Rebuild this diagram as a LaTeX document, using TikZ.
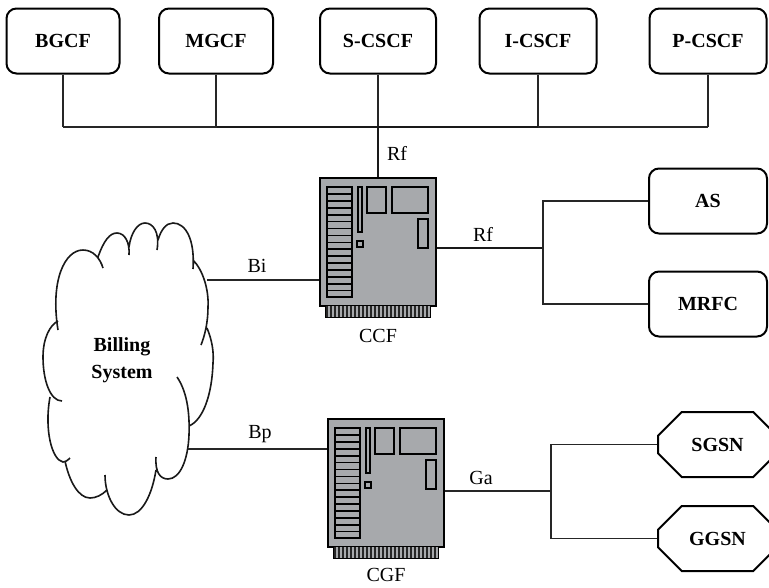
\documentclass[tikz,border=0pt]{standalone}
\usepackage{fontspec}
\setmainfont{Liberation Serif}
\usetikzlibrary{positioning,shapes.misc}
\definecolor{boardgray}{HTML}{A7A9AC}
\tikzset{
    wire/.style={line width=1.6pt, black!85},
    heavy/.style={line width=2.6pt, black!90},
    elbox/.style={draw, line width=2pt, rounded corners=10pt, font=\fontsize{20}{24}\selectfont\bfseries, inner sep=0pt},
    gateway/.style={draw, line width=2pt, chamfered rectangle, chamfered rectangle xsep=20pt, chamfered rectangle ysep=17pt, minimum width=119pt, minimum height=65pt, font=\fontsize{20}{24}\selectfont\bfseries, inner sep=0pt},
    board/.style={draw, line width=1.8pt, fill=boardgray, minimum width=116pt, minimum height=128pt, inner sep=0pt},
    lbl/.style={font=\fontsize{20}{24}\selectfont, inner sep=0pt}
}
\begin{document}
\begin{tikzpicture}[x=1pt,y=-1pt]
    \useasboundingbox (0,0) rectangle (769,587);
    % Top row
    \foreach \n/\x/\w/\t in {bgcf/63/113/BGCF, mgcf/216/114/MGCF, scscf/378/116/S-CSCF, icscf/538/117/I-CSCF, pcscf/708/117/P-CSCF}
        \node (\n) [elbox, minimum width=\w pt, minimum height=65pt] at (\x,41) {\t};
    % Right column
    \node (as) [elbox, minimum width=118pt, minimum height=65pt] at (708,201) {AS};
    \node (mrfc) [elbox, minimum width=118pt, minimum height=65pt] at (708,304) {MRFC};
    \node (sgsn) [gateway] at (717.5,444.5) {SGSN};
    \node (ggsn) [gateway] at (717.5,538.5) {GGSN};
    % Boards
    \node (ccf) [board] at (378,242) {};
    \node (cgf) [board] at (386,483) {};
    \foreach \d in {ccf,cgf} {
        \begin{scope}[shift={(\d.north west)}]
            \draw[line width=1.2pt, fill=boardgray] (6,128) rectangle (111,140);
            \foreach \x in {8,12,...,108} \draw[line width=2.2pt, black!85] (\x,129) -- (\x,140);
            \draw[line width=1.3pt] (8,10) rectangle (33,120);
            \foreach \i in {1,...,15} \draw[line width=1.6pt] (7,10+\i*6.9) -- (34,10+\i*6.9);
            \draw[line width=1.3pt] (39,10) rectangle (43,55);
            \draw[line width=1.3pt] (38,64) rectangle (44,70);
            \draw[line width=1.6pt] (48,10) rectangle (67,36);
            \draw[line width=1.6pt] (73,10) rectangle (109,36);
            \draw[line width=1.6pt] (99,42) rectangle (109,71);
        \end{scope}
    }
    \node (ccflabel) [lbl, below=22pt of ccf] {CCF};
    \node (cgflabel) [lbl, below=20.5pt of cgf] {CGF};
    % Cloud
    \draw[line width=1.6pt, black!90]
        (58,330) .. controls (50,280) and (65,250) .. (83,250) .. controls (93,250) and (100,258) .. (103,268)
        (98,257) .. controls (104,240) and (110,233) .. (117,233) .. controls (125,233) and (130,243) .. (129,255)
        (129,247) .. controls (131,232) and (138,223) .. (145,223) .. controls (153,223) and (160,232) .. (157,250)
        (158,240) .. controls (161,230) and (166,223) .. (173,223) .. controls (186,223) and (195,240) .. (193,269)
        (193,260) .. controls (203,270) and (209,290) .. (208,307) .. controls (208,322) and (205,335) .. (201,345)
        (207,328) .. controls (212,340) and (214,352) .. (213,363) .. controls (212,395) and (203,420) .. (189,426)
        (177,377) .. controls (186,390) and (190,410) .. (189,435) .. controls (188,460) and (180,479) .. (168,479) .. controls (160,479) and (155,472) .. (156,457)
        (156,470) .. controls (152,495) and (142,515) .. (129,515) .. controls (115,515) and (105,495) .. (105,475)
        (107,490) .. controls (102,495) and (96,498) .. (90,498) .. controls (78,498) and (69,480) .. (65,461)
        (70,458) .. controls (67,461) and (65,462) .. (63,462) .. controls (52,460) and (44,430) .. (50,397)
        (62,401) .. controls (50,401) and (43,380) .. (43,357) .. controls (43,338) and (50,325) .. (58,321);
    \node (billing) [align=center, inner sep=0pt, font=\fontsize{20}{27}\selectfont\bfseries] at (122,360) {Billing\\System};
    % Bus
    \coordinate (busl) at (65,127);
    \coordinate (busm) at (217,127);
    \coordinate (busr) at (538,127);
    \foreach \n in {bgcf,mgcf,scscf,icscf,pcscf}
        \draw[wire] (\n.south) -- (\n.south |- busl);
    \draw[wire] (bgcf.south |- busl) -- (busm);
    \draw[wire] (busr) -- (pcscf.south |- busl);
    \draw[heavy] (busm) -- (busr);
    \draw[heavy] (ccf.north) -- (ccf.north |- busl);
    % Charging links
    \coordinate (rfjoin) at (543,248);
    \coordinate (gajoin) at (551,491);
    \coordinate (bi) at (207,280);
    \coordinate (bp) at (188,449);
    \draw[heavy] (ccf.east |- rfjoin) -- (rfjoin);
    \draw[wire] (as.west) -| (rfjoin) |- (mrfc.west);
    \draw[wire] (cgf.east |- gajoin) -- (gajoin);
    \draw[wire] (sgsn.west) -| (gajoin) |- (ggsn.west);
    \draw[wire] (bi) -- (bi -| ccf.west);
    \draw[wire] (bp) -- (bp -| cgf.west);
    % Labels
    \node (rftop) [lbl] at (397,153) {Rf};
    \node (rfright) [lbl] at (483,234) {Rf};
    \node (bilabel) [lbl] at (257,266) {Bi};
    \node (bplabel) [lbl] at (260,434) {Bp};
    \node (galabel) [lbl] at (481,478) {Ga};
\end{tikzpicture}
\end{document}
